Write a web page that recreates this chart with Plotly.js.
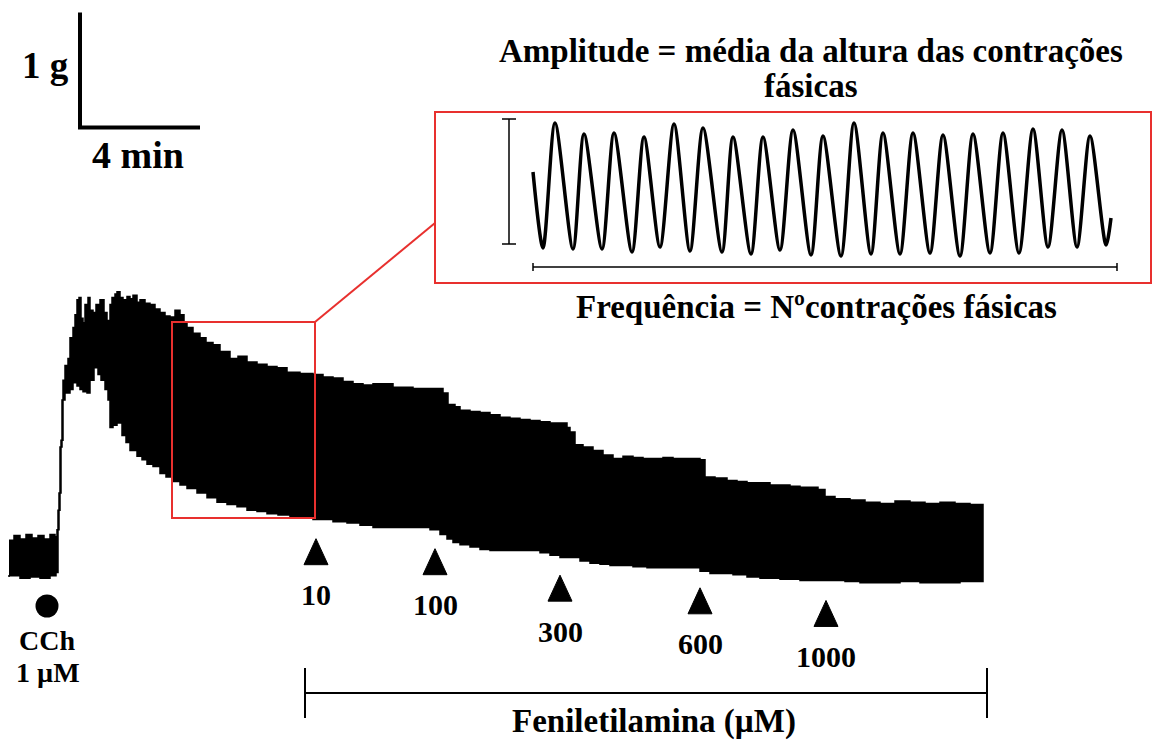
<!DOCTYPE html>
<html><head><meta charset="utf-8">
<script src="https://cdn.plot.ly/plotly-3.0.1.min.js"></script>
<style>html,body{margin:0;padding:0;background:#fff}#chart{width:1153px;height:740px}</style>
</head><body><div id="chart"></div>
<script>
// ---- Main trace: upper and lower envelopes of the phasic contractions (time in s, force in g)
const upperTime = [-2,8,20,32,44,56,68,80,90,94,98,102,106,110,116,120,126,130,134,138,142,146,150,156,160,166,172,180,188,194,200,204,210,214,220,226,234,240,246,254,260,270,280,290,300,310,320,330,340,348,354,366,380,392,406,420,440,456,474,494,514,534,554,580,606,626,646,666,686,706,726,746,766,786,806,826,846,866,876,890,900,920,940,960,980,1000,1020,1040,1060,1080,1100,1114,1120,1130,1146,1166,1186,1206,1226,1246,1266,1286,1306,1326,1340,1360,1380,1390,1410,1434,1454,1474,1500,1520,1540,1560,1580,1600,1616,1630,1650,1680,1710,1740,1770,1800,1830,1860,1890,1920,1946];
const upperForce = [0.52,0.56,0.53,0.57,0.54,0.56,0.53,0.57,0.55,0.61,0.93,1.39,1.91,2.04,2.10,2.28,2.37,2.48,2.61,2.63,2.45,2.41,2.57,2.63,2.52,2.50,2.57,2.61,2.50,2.43,2.57,2.63,2.66,2.68,2.63,2.61,2.64,2.62,2.65,2.59,2.61,2.58,2.57,2.53,2.50,2.47,2.46,2.52,2.48,2.42,2.37,2.32,2.28,2.24,2.22,2.16,2.10,2.12,2.07,2.05,2.03,2.02,1.98,1.97,1.96,1.94,1.93,1.90,1.88,1.87,1.88,1.88,1.85,1.85,1.84,1.84,1.84,1.80,1.70,1.68,1.65,1.64,1.63,1.61,1.59,1.58,1.57,1.56,1.55,1.54,1.54,1.50,1.46,1.35,1.33,1.30,1.26,1.23,1.25,1.24,1.23,1.23,1.24,1.23,1.23,1.23,1.22,1.07,1.06,1.04,1.03,1.02,1.02,1.00,1.00,0.99,0.98,0.98,0.96,0.90,0.88,0.87,0.85,0.84,0.86,0.85,0.84,0.85,0.84,0.83,0.83];
const lowerTime = [-2,20,40,60,80,92,96,100,104,110,120,126,134,140,146,154,160,168,176,182,190,196,200,206,214,224,232,240,254,264,274,286,300,312,324,340,354,374,394,414,434,454,474,494,514,536,560,580,606,626,646,674,700,726,754,780,810,840,860,874,886,900,920,940,960,980,1000,1020,1040,1060,1080,1100,1120,1140,1160,1180,1200,1220,1246,1274,1300,1326,1354,1380,1400,1420,1446,1474,1500,1520,1540,1580,1610,1640,1670,1700,1740,1780,1820,1860,1900,1946];
const lowerForce = [0.20,0.21,0.19,0.20,0.19,0.21,0.24,0.78,1.33,1.74,1.80,1.83,1.89,1.86,1.83,1.81,1.80,1.91,2.02,1.96,1.91,1.83,1.74,1.50,1.52,1.54,1.43,1.37,1.30,1.25,1.22,1.18,1.16,1.10,1.07,1.03,1.00,0.97,0.93,0.89,0.85,0.83,0.81,0.78,0.77,0.75,0.74,0.72,0.71,0.70,0.70,0.68,0.67,0.65,0.63,0.63,0.63,0.63,0.61,0.57,0.53,0.50,0.48,0.46,0.44,0.43,0.43,0.43,0.43,0.43,0.41,0.39,0.37,0.37,0.34,0.32,0.31,0.30,0.30,0.29,0.28,0.28,0.28,0.28,0.25,0.23,0.23,0.22,0.20,0.19,0.19,0.18,0.17,0.17,0.17,0.16,0.15,0.15,0.16,0.15,0.15,0.16];

// ---- Inset: detail of phasic contractions (time in s, force in g)
const insetTime = [0,5,11,20,25.5,34.5,40.5,49.5,55.5,63.5,70.5,78.5,85,94.5,100,109,115,123.5,130,139,145,154,160.5,169,175,183.5,190,198.5,205,213.5,220,228.5,235,243,250,257.5,264.5,272,278.5,286.5,289];
const insetForce = [1.11,0.35,1.60,0.34,1.49,0.34,1.50,0.31,1.46,0.36,1.59,0.32,1.55,0.31,1.46,0.29,1.46,0.33,1.53,0.28,1.47,0.27,1.60,0.29,1.50,0.29,1.50,0.30,1.48,0.27,1.49,0.30,1.50,0.30,1.54,0.36,1.53,0.36,1.47,0.38,0.65];

// ---- Drug additions
const cchLabel = ['CCh', '1 µM'];
const cchTime = 74;
const doseLabels = ['10', '100', '300', '600', '1000'];
const doseTimes = [612, 850, 1100, 1380, 1632];
const drugName = 'Feniletilamina (µM)';

// ---- Calibration bars
const scaleTime = 240;   // 4 min
const scaleForce = 1;    // 1 g
const scaleLabels = ['1 g', '4 min'];

// ---- layout helpers (pixel -> axis / paper), used only for decoration placement
const W = 1153, H = 740;
const px2t = px => 2 * (px - 10);
const py2F = py => (600 - py) / 115;
const PX = px => px / W;
const PY = py => 1 - py / H;
const FONT = 'Liberation Serif, Times New Roman, serif';
const RED = '#e8302e';

function lowerAt(t) {
  for (let i = 0; i < lowerTime.length - 1; i++) {
    if (t >= lowerTime[i] && t <= lowerTime[i + 1]) {
      const f = (t - lowerTime[i]) / (lowerTime[i + 1] - lowerTime[i]);
      return lowerForce[i] + f * (lowerForce[i + 1] - lowerForce[i]);
    }
  }
  return lowerForce[lowerForce.length - 1];
}

const traces = [];
traces.push({
  x: upperTime.concat(lowerTime.slice().reverse()),
  y: upperForce.concat(lowerForce.slice().reverse()),
  mode: 'lines', fill: 'toself', fillcolor: '#000',
  line: {color: '#000', width: 1.5, shape: 'hv'}, hoverinfo: 'skip', showlegend: false
});
// calibration bars
const cornerT = px2t(80), cornerF = py2F(127.5);
traces.push({
  x: [cornerT, cornerT, cornerT + scaleTime],
  y: [cornerF + scaleForce, cornerF, cornerF],
  mode: 'lines', line: {color: '#000', width: 4}, hoverinfo: 'skip', showlegend: false
});
// CCh dot
traces.push({
  x: [cchTime], y: [py2F(606)], mode: 'markers',
  marker: {symbol: 'circle', size: 23, color: '#000'}, hoverinfo: 'skip', showlegend: false
});
// inset trace
traces.push({
  x: insetTime, y: insetForce, xaxis: 'x2', yaxis: 'y2', mode: 'lines',
  line: {color: '#000', width: 3.5, shape: 'spline', smoothing: 0.8},
  hoverinfo: 'skip', showlegend: false
});

const shapes = [];
const annotations = [];
const gapF = 20 / 115, triH = 26 / 115, triHalf = 24, labelOff = 30 / 115;
doseTimes.forEach((t, i) => {
  const top = lowerAt(t) - gapF;
  const bot = top - triH;
  shapes.push({type: 'path', xref: 'x', yref: 'y',
    path: `M ${t - triHalf},${bot} L ${t},${top} L ${t + triHalf},${bot} Z`,
    fillcolor: '#000', line: {color: '#000', width: 1}});
  annotations.push({x: t, y: bot - labelOff, xref: 'x', yref: 'y', text: '<b>' + doseLabels[i] + '</b>',
    showarrow: false, font: {family: FONT, size: 30, color: '#000'}, xanchor: 'center', yanchor: 'middle'});
});
// Feniletilamina bracket
const bY = py2F(693);
shapes.push({type: 'line', xref: 'x', yref: 'y', x0: px2t(305), x1: px2t(987), y0: bY, y1: bY, line: {color: '#000', width: 2}});
shapes.push({type: 'line', xref: 'x', yref: 'y', x0: px2t(305), x1: px2t(305), y0: py2F(668), y1: py2F(718), line: {color: '#000', width: 2}});
shapes.push({type: 'line', xref: 'x', yref: 'y', x0: px2t(987), x1: px2t(987), y0: py2F(668), y1: py2F(718), line: {color: '#000', width: 2}});
// red zoom box on trace + connector
shapes.push({type: 'rect', xref: 'x', yref: 'y', x0: px2t(172), x1: px2t(315), y0: py2F(518), y1: py2F(322), line: {color: RED, width: 2}});
shapes.push({type: 'line', xref: 'paper', yref: 'paper', x0: PX(315), y0: PY(322), x1: PX(435), y1: PY(223), line: {color: RED, width: 2}});
// inset border
shapes.push({type: 'rect', xref: 'paper', yref: 'paper', x0: PX(435), x1: PX(1151), y0: PY(283), y1: PY(112), line: {color: RED, width: 2}});
// inset amplitude bar
shapes.push({type: 'line', xref: 'x2', yref: 'y2', x0: -12, x1: -12, y0: 0.39, y1: 1.64, line: {color: '#000', width: 1.5}});
shapes.push({type: 'line', xref: 'x2', yref: 'y2', x0: -15.5, x1: -8.5, y0: 0.39, y1: 0.39, line: {color: '#000', width: 1.5}});
shapes.push({type: 'line', xref: 'x2', yref: 'y2', x0: -15.5, x1: -8.5, y0: 1.64, y1: 1.64, line: {color: '#000', width: 1.5}});
// inset frequency bar
shapes.push({type: 'line', xref: 'x2', yref: 'y2', x0: 0, x1: 292, y0: 0.16, y1: 0.16, line: {color: '#000', width: 1.5}});
shapes.push({type: 'line', xref: 'x2', yref: 'y2', x0: 0, x1: 0, y0: 0.12, y1: 0.20, line: {color: '#000', width: 1.5}});
shapes.push({type: 'line', xref: 'x2', yref: 'y2', x0: 292, x1: 292, y0: 0.12, y1: 0.20, line: {color: '#000', width: 1.5}});

function txt(text, px, py, size) {
  annotations.push({x: PX(px), y: PY(py), xref: 'paper', yref: 'paper', text: '<b>' + text + '</b>',
    showarrow: false, font: {family: FONT, size: size, color: '#000'}, xanchor: 'center', yanchor: 'middle'});
}
txt(scaleLabels[0], 45, 66, 37);
txt(scaleLabels[1], 138, 155, 38);
txt('Amplitude = média da altura das contrações', 811, 51, 33);
txt('fásicas', 811, 86, 33);
txt('Frequência = Nºcontrações fásicas', 816, 307, 33);
txt(cchLabel[0], 47, 640, 28);
txt(cchLabel[1], 48, 672, 28);
txt(drugName, 654, 721, 33);

const layout = {
  width: W, height: H, margin: {l: 0, r: 0, t: 0, b: 0},
  paper_bgcolor: '#fff', plot_bgcolor: '#fff', showlegend: false,
  xaxis: {range: [px2t(0), px2t(W)], visible: false, domain: [0, 1], fixedrange: true},
  yaxis: {range: [py2F(H), py2F(0)], visible: false, domain: [0, 1], fixedrange: true},
  xaxis2: {range: [-49, 309], domain: [PX(435), PX(1151)], anchor: 'y2', visible: false, fixedrange: true},
  yaxis2: {range: [0, 1.71], domain: [PY(283), PY(112)], anchor: 'x2', visible: false, fixedrange: true},
  shapes: shapes, annotations: annotations
};
Plotly.newPlot('chart', traces, layout, {displayModeBar: false, staticPlot: true});
</script></body></html>
